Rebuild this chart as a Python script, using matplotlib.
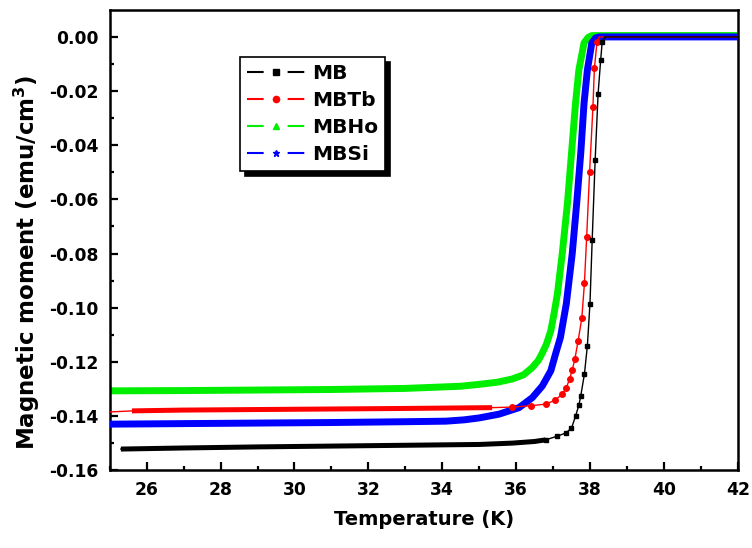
import numpy as np
import matplotlib
matplotlib.use("Agg")
import matplotlib.pyplot as plt
from matplotlib.lines import Line2D

plt.rcParams['font.family'] = ['DejaVu Sans']
plt.rcParams['font.weight'] = 'bold'
plt.rcParams['axes.unicode_minus'] = False

# ZFC magnetisation curves, M (emu/cm^3) vs T (K)
mb_T = [25.3, 27, 29, 31, 33, 35.0, 35.9, 36.5, 36.8, 37.1, 37.34, 37.5, 37.61, 37.7,
        37.75, 37.85, 37.93, 38.0, 38.06, 38.14, 38.22, 38.29, 38.33, 38.4, 40, 42]
mb_M = [-0.1522, -0.1518, -0.1514, -0.1511, -0.1508, -0.1505, -0.1500, -0.1494, -0.1488,
        -0.1475, -0.1463, -0.1445, -0.1400, -0.1360, -0.1326, -0.1245, -0.1140, -0.0985,
        -0.0750, -0.0456, -0.0210, -0.0085, -0.0020, 0.0, 0.0, 0.0]

mbtb_T = [25.0, 25.6, 27, 29, 31, 33, 35.35, 35.9, 36.4, 36.8, 37.05, 37.25, 37.36, 37.45,
          37.52, 37.59, 37.68, 37.78, 37.85, 37.91, 37.99, 38.08, 38.12, 38.19, 38.25, 40, 42]
mbtb_M = [-0.1385, -0.1381, -0.1378, -0.1376, -0.1374, -0.1372, -0.1369, -0.1367, -0.1362,
          -0.1356, -0.1342, -0.1319, -0.1295, -0.1263, -0.1230, -0.1190, -0.1122, -0.1037,
          -0.0910, -0.0740, -0.0500, -0.0260, -0.0115, -0.0020, 0.0, 0.0, 0.0]

mbho_T = [25.0, 27, 29, 31, 33, 34.5, 35.0, 35.5, 35.9, 36.2, 36.43, 36.6, 36.7, 36.82,
          36.94, 37.03, 37.12, 37.25, 37.39, 37.5, 37.61, 37.7, 37.84, 37.95, 38.05, 40, 42]
mbho_M = [-0.1307, -0.1306, -0.1304, -0.1302, -0.1298, -0.1290, -0.1283, -0.1275, -0.1263,
          -0.1248, -0.1222, -0.1195, -0.1170, -0.1135, -0.1085, -0.1020, -0.0948, -0.0800,
          -0.0615, -0.0430, -0.0244, -0.0122, -0.0022, -0.0002, 0.0005, 0.0005, 0.0005]

mbsi_T = [25.0, 27, 29, 31, 33, 34.1, 34.6, 35.0, 35.54, 36.08, 36.44, 36.71, 36.94, 37.07,
          37.2, 37.36, 37.52, 37.64, 37.75, 37.84, 37.93, 38.05, 38.15, 38.24, 40, 42]
mbsi_M = [-0.1430, -0.1428, -0.1426, -0.1424, -0.1421, -0.1419, -0.1414, -0.1407, -0.1393,
          -0.1369, -0.1332, -0.1289, -0.1233, -0.1170, -0.1110, -0.0985, -0.0800, -0.0615,
          -0.0430, -0.0244, -0.0122, -0.0022, -0.0004, 0.0, 0.0, 0.0]

labels = ['MB', 'MBTb', 'MBHo', 'MBSi']
colors = ['black', 'red', '#00ee00', 'blue']
markers = ['s', 'o', '^', '*']

xticks = [26, 28, 30, 32, 34, 36, 38, 40, 42]
yticks = [-0.16, -0.14, -0.12, -0.10, -0.08, -0.06, -0.04, -0.02, 0.00]

fig = plt.figure(figsize=(7.52, 5.48), dpi=100)
ax = fig.add_axes([0.146, 0.142, 0.835, 0.840])

# green and blue: dense symbols, drawn as a thick band
ax.plot(mbho_T, mbho_M, color=colors[2], lw=5, solid_capstyle='butt',
        solid_joinstyle='round', zorder=2)
ax.plot(mbsi_T, mbsi_M, color=colors[3], lw=5, solid_capstyle='butt',
        solid_joinstyle='round', zorder=3)

# red and black: thick where the symbols pile up, thin line + symbols in the transition
def split_plot(T, M, color, marker, ms, thick_ranges, mark_range, z):
    T = np.asarray(T)
    M = np.asarray(M)
    thick = np.zeros(len(T), dtype=bool)
    for lo, hi in thick_ranges:
        thick |= (T >= lo) & (T <= hi)
    ax.plot(T, np.where(thick, M, np.nan), color=color, lw=3.6,
            solid_capstyle='butt', zorder=z)
    marks = (T >= mark_range[0]) & (T <= mark_range[1])
    ax.plot(T, M, color=color, lw=1.0, marker=marker, ms=ms, markevery=list(marks),
            zorder=z)

split_plot(mbtb_T, mbtb_M, colors[1], markers[1], 4, [(25.6, 35.35)], (35.9, 38.2), 4)
split_plot(mb_T, mb_M, colors[0], markers[0], 3.5, [(25.3, 35.0), (35.9, 36.8)],
           (36.8, 38.35), 5)

ax.set_xlim(25, 42)
ax.set_ylim(-0.16, 0.01)
ax.set_xticks(xticks)
ax.set_xticks([25, 27, 29, 31, 33, 35, 37, 39, 41], minor=True)
ax.set_yticks(yticks)
ax.set_yticklabels(['%.2f' % v for v in yticks])
ax.set_yticks([-0.15, -0.13, -0.11, -0.09, -0.07, -0.05, -0.03, -0.01], minor=True)

ax.tick_params(which='both', direction='in', top=False, right=False, width=1.6,
               labelsize=12.3)
ax.tick_params(which='major', length=6, pad=8)
ax.tick_params(which='minor', length=3)
for sp in ax.spines.values():
    sp.set_linewidth(1.8)

ax.set_xlabel('Temperature (K)', fontsize=14, fontweight='bold', labelpad=8)
ax.set_ylabel('Magnetic moment (emu/cm$^\\mathbf{3}$)', fontsize=16.5, fontweight='bold')
ax.yaxis.set_label_coords(-0.108, 0.452)

handles = [Line2D([], [], color=c, lw=1.5, dashes=(8, 11.5), marker=m, ms=4.5)
           for c, m in zip(colors, markers)]
leg = ax.legend(handles, labels, loc='upper left', bbox_to_anchor=(0.207, 0.898),
                borderaxespad=0, fontsize=14.5, handlelength=2.9, handletextpad=0.35,
                labelspacing=0.4, borderpad=0.35, numpoints=1, fancybox=False,
                framealpha=1, edgecolor='black',
                shadow={'facecolor': 'black', 'edgecolor': 'black', 'alpha': 1,
                        'ox': 3.5, 'oy': -3.5})
leg.get_frame().set_linewidth(1.2)
for t in leg.get_texts():
    t.set_fontweight('bold')

fig.savefig('out.png', dpi=100)
